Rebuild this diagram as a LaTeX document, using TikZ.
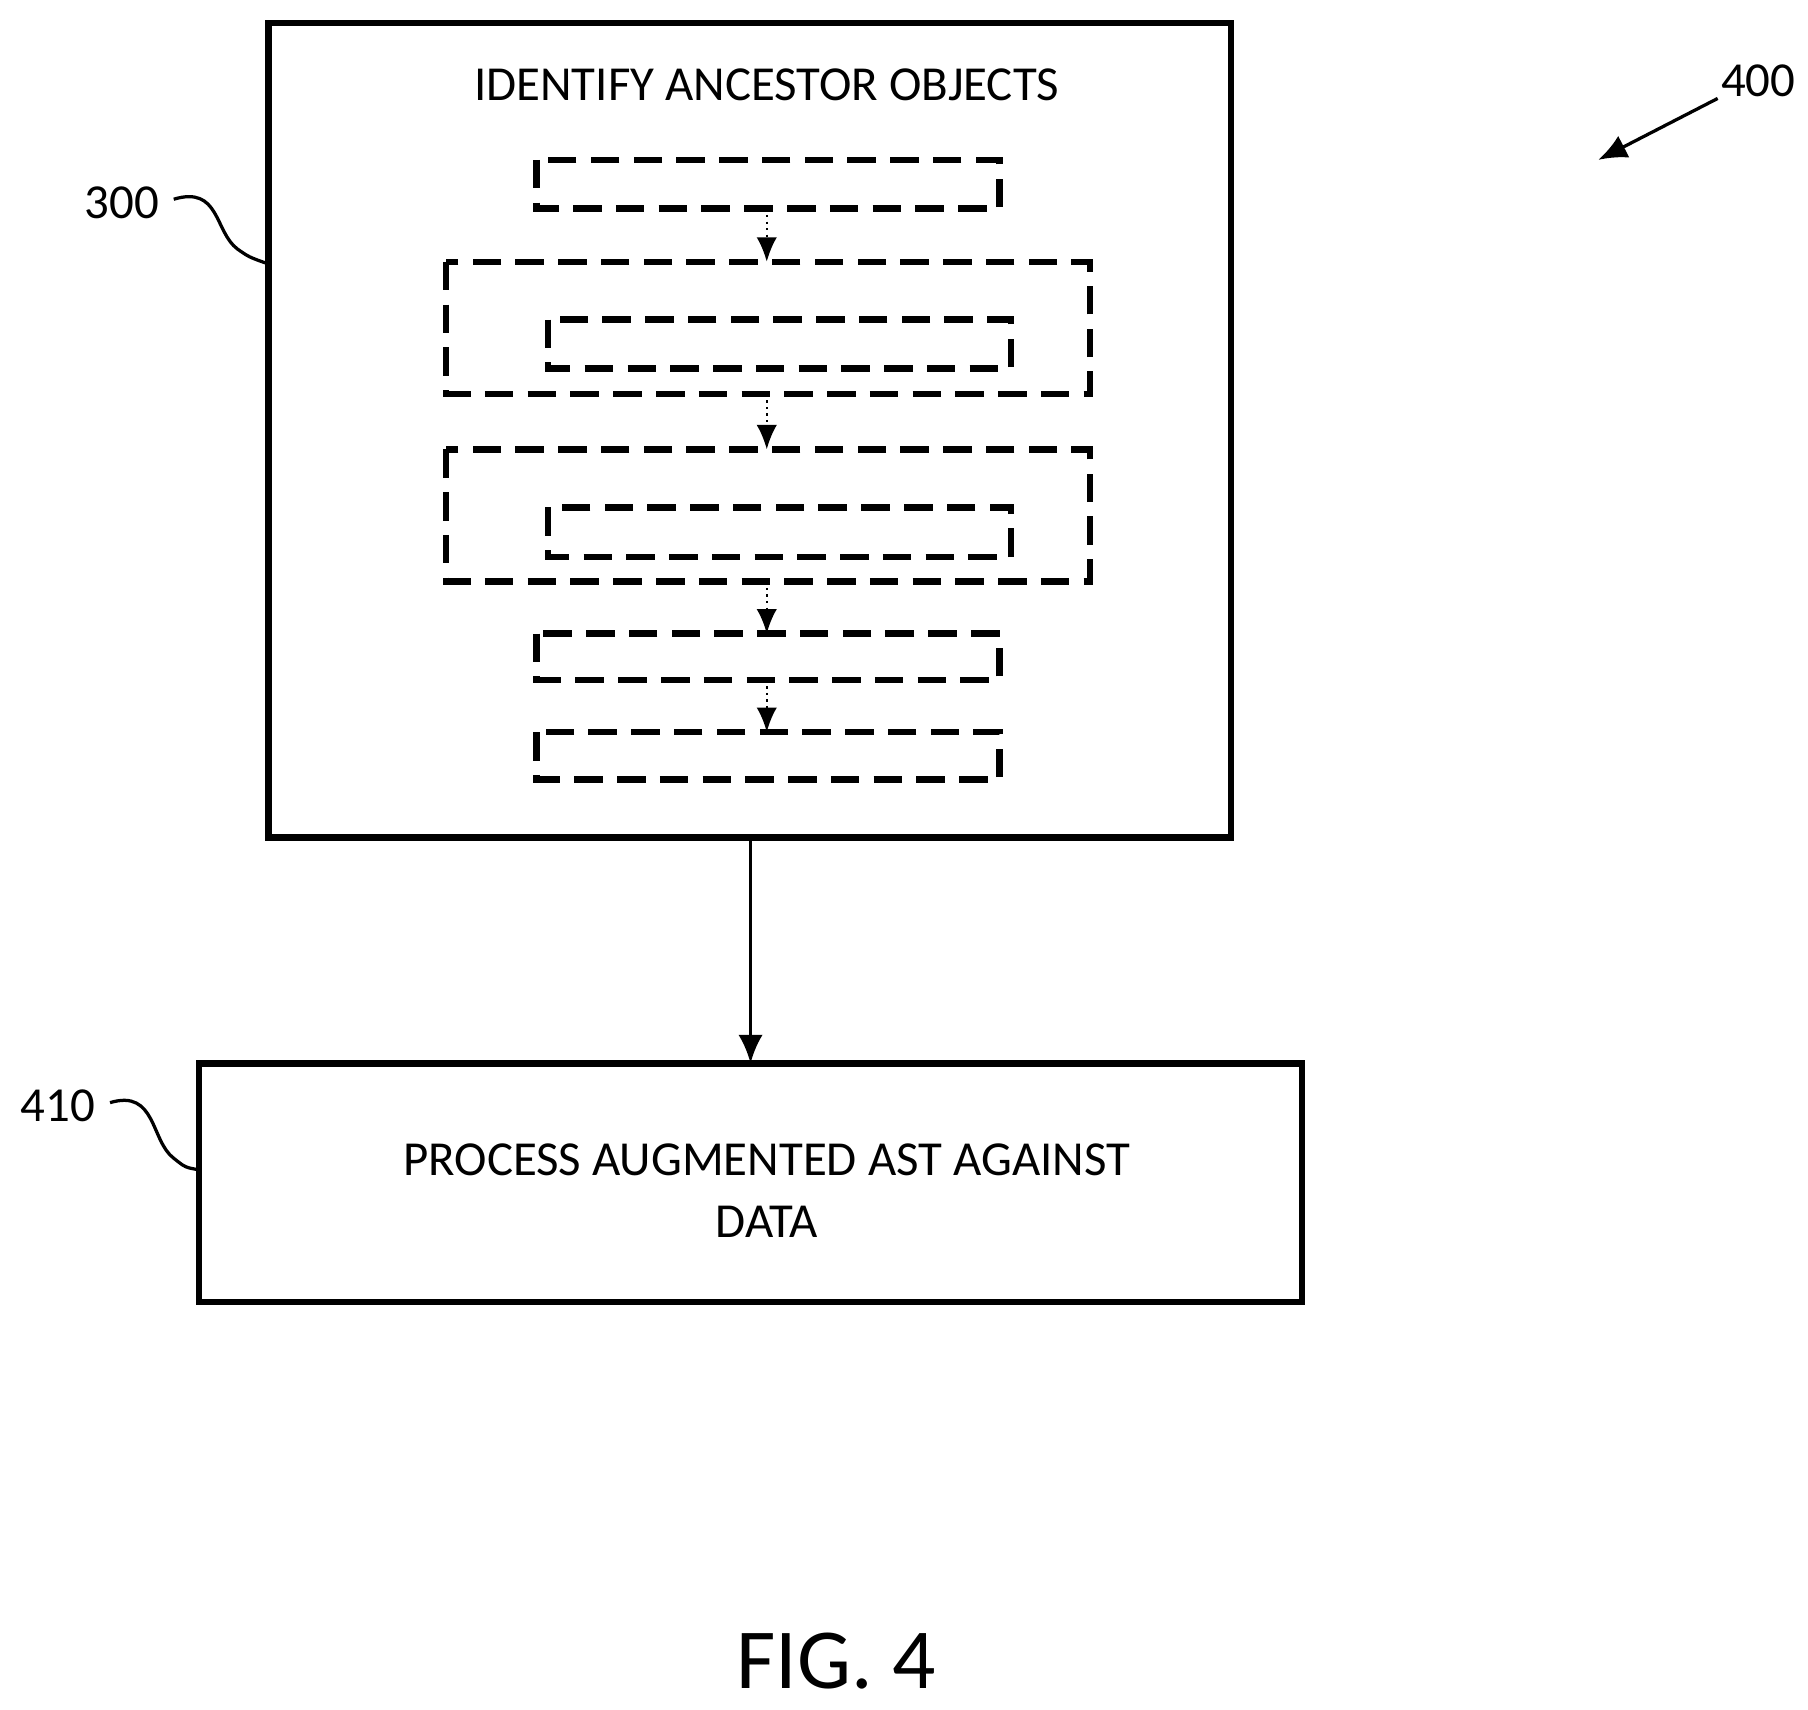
\documentclass[tikz,border=0pt]{standalone}
\usepackage{fontspec}
\setmainfont{Carlito}
\usetikzlibrary{arrows.meta, positioning, calc}

\begin{document}
\begin{tikzpicture}[
    x=0.01cm, y=-0.01cm,
    every node/.style={font=\fontsize{12}{15}\selectfont},
    mainbox/.style={draw=black, line width=1.6pt},
    dashbox/.style={draw=black, line width=1.6pt, dash pattern=on 7pt off 3.5pt},
    dotarrow/.style={-{Latex[length=6pt,width=5pt]}, line width=0.6pt, densely dotted},
    arrow/.style={-{Latex[length=7pt,width=6pt]}, line width=0.8pt},
    refline/.style={line width=0.8pt}
]
\useasboundingbox (0,0) rectangle (1561,1476);

% Outer block 300
\draw[mainbox] (232,20) rectangle (1063,723);
\coordinate (outerleft) at (232,228);
\coordinate (outerbot) at (648,723);
\node (title) at (662,73) {IDENTIFY ANCESTOR OBJECTS};

% Inner dashed blocks
\draw[dashbox] (463,138) rectangle (863,180);
\draw[dashbox] (385,226) rectangle (941,340);
\draw[dashbox] (473,276) rectangle (873,318);
\draw[dashbox] (385,388) rectangle (941,502);
\draw[dashbox] (473,438) rectangle (873,481);
\draw[dashbox] (463,547) rectangle (863,587);
\draw[dashbox] (463,632) rectangle (863,673);

% Dotted arrows
\coordinate (d1s) at (662,180); \coordinate (d1e) at (662,226);
\coordinate (d2s) at (662,340); \coordinate (d2e) at (662,388);
\coordinate (d3s) at (662,502); \coordinate (d3e) at (662,547);
\coordinate (d4s) at (662,587); \coordinate (d4e) at (662,632);
\foreach \i in {1,...,4}
    \draw[dotarrow] (d\i s) -- (d\i e);

% Block 410
\draw[mainbox] (172,918) rectangle (1124,1124);
\coordinate (proctop) at (648,918);
\coordinate (procleft) at (172,1010);
\node[align=center] (process) at (662,1028) {PROCESS AUGMENTED AST AGAINST\\DATA};
\draw[arrow] (outerbot) -- (proctop);

% Reference labels
\node (ref300) at (105,175) {300};
\draw[refline] (150,172) .. controls (190,160) and (185,200) .. (205,215) .. controls (215,222) .. (outerleft);
\node (ref410) at (50,955) {410};
\draw[refline] (95,952) .. controls (135,940) and (130,985) .. (150,1000) .. controls (160,1008) .. (procleft);
\node (ref400) at (1518,70) {400};
\coordinate (arr400) at (1380,138);
\draw[arrow] (1483,85) -- (arr400);

% Figure caption
\node[font=\fontsize{21}{25}\selectfont] (fig) at (722,1434) {FIG. 4};
\end{tikzpicture}
\end{document}
